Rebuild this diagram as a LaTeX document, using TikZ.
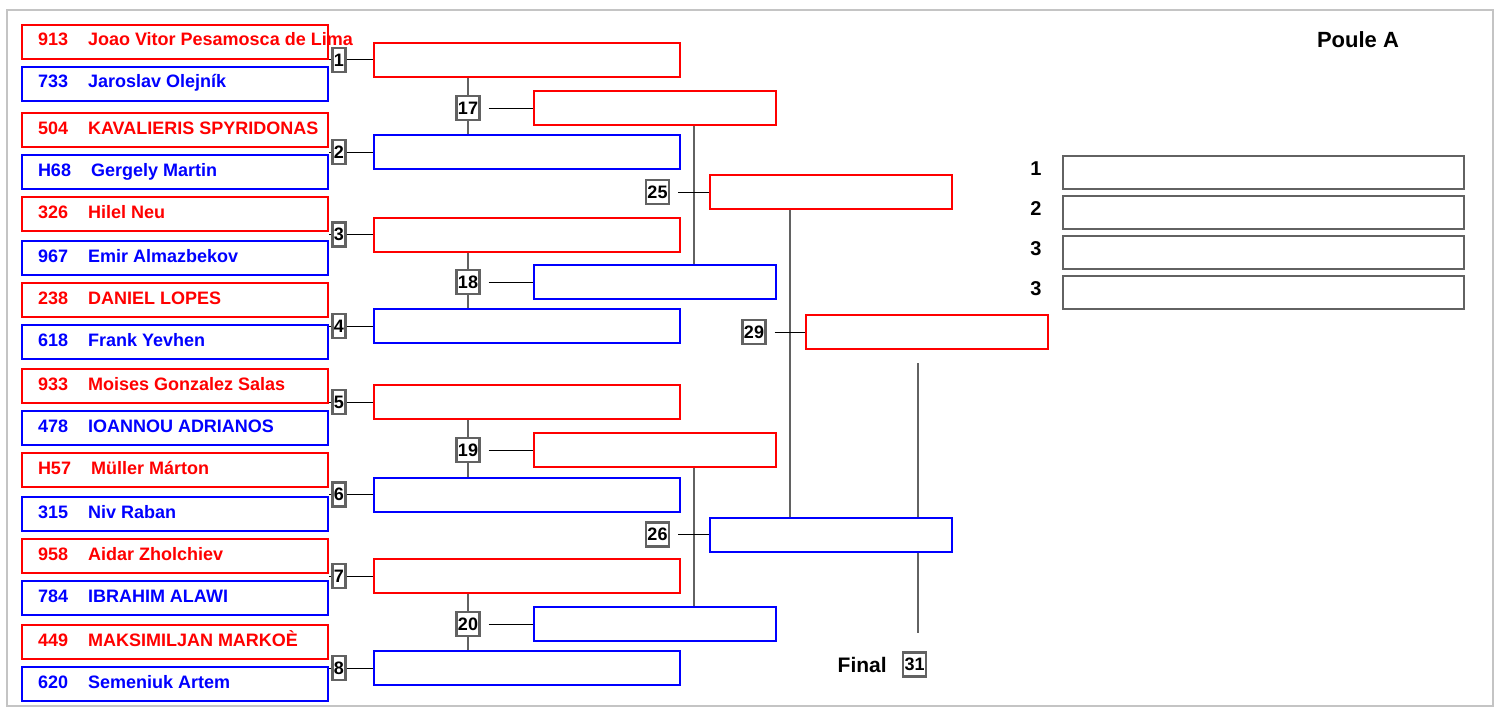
\documentclass[tikz,border=0pt]{standalone}
\usepackage{fontspec}
\setmainfont{Liberation Sans}
\usetikzlibrary{calc,positioning}
\definecolor{EntryRed}{HTML}{FF0000}
\definecolor{EntryBlue}{HTML}{0000FF}
\definecolor{FrameGray}{HTML}{626262}
\definecolor{BorderGray}{HTML}{C4C4C4}

\begin{document}
\begin{tikzpicture}[x=1pt, y=-1pt,
  entry/.style={draw, line width=2pt, minimum width=306pt, minimum height=34pt, inner xsep=16pt, inner ysep=0pt, text height=13pt, text depth=5pt, font=\bfseries\fontsize{18}{20}\selectfont},
  slot/.style={draw, line width=2pt, minimum width=242pt, minimum height=34pt, inner sep=0pt},
  wideslot/.style={slot, minimum width=306pt},
  matchno/.style={draw=FrameGray, line width=2.2pt, fill=white, minimum height=24pt, inner xsep=1.5pt, inner ysep=0pt, font=\bfseries\fontsize{18}{20}\selectfont},
  rankbox/.style={draw=FrameGray, line width=2.5pt, minimum width=401pt, minimum height=33pt},
  link/.style={FrameGray, line width=1.3pt},
  feed/.style={black, line width=1pt}]
  \useasboundingbox (0,0) rectangle (1496,709);
  % Frame
  \draw[BorderGray, line width=2pt] (7,10) rectangle (1493,706);
  \node[font=\bfseries\fontsize{22}{24}\selectfont] (title) at (1358,40) {Poule A};

  % Entries
  \node[entry, EntryRed]  (p1)  at (175,42)  {\makebox[274pt][l]{913\hspace{20pt}Joao Vitor Pesamosca de Lima}};
  \node[entry, EntryBlue] (p2)  at (175,84)  {\makebox[274pt][l]{733\hspace{20pt}Jaroslav Olejník}};
  \node[entry, EntryRed]  (p3)  at (175,130) {\makebox[274pt][l]{504\hspace{20pt}KAVALIERIS SPYRIDONAS}};
  \node[entry, EntryBlue] (p4)  at (175,172) {\makebox[274pt][l]{H68\hspace{20pt}Gergely Martin}};
  \node[entry, EntryRed]  (p5)  at (175,214) {\makebox[274pt][l]{326\hspace{20pt}Hilel Neu}};
  \node[entry, EntryBlue] (p6)  at (175,258) {\makebox[274pt][l]{967\hspace{20pt}Emir Almazbekov}};
  \node[entry, EntryRed]  (p7)  at (175,300) {\makebox[274pt][l]{238\hspace{20pt}DANIEL LOPES}};
  \node[entry, EntryBlue] (p8)  at (175,342) {\makebox[274pt][l]{618\hspace{20pt}Frank Yevhen}};
  \node[entry, EntryRed]  (p9)  at (175,386) {\makebox[274pt][l]{933\hspace{20pt}Moises Gonzalez Salas}};
  \node[entry, EntryBlue] (p10) at (175,428) {\makebox[274pt][l]{478\hspace{20pt}IOANNOU ADRIANOS}};
  \node[entry, EntryRed]  (p11) at (175,470) {\makebox[274pt][l]{H57\hspace{20pt}Müller Márton}};
  \node[entry, EntryBlue] (p12) at (175,514) {\makebox[274pt][l]{315\hspace{20pt}Niv Raban}};
  \node[entry, EntryRed]  (p13) at (175,556) {\makebox[274pt][l]{958\hspace{20pt}Aidar Zholchiev}};
  \node[entry, EntryBlue] (p14) at (175,598) {\makebox[274pt][l]{784\hspace{20pt}IBRAHIM ALAWI}};
  \node[entry, EntryRed]  (p15) at (175,642) {\makebox[274pt][l]{449\hspace{20pt}MAKSIMILJAN MARKOÈ}};
  \node[entry, EntryBlue] (p16) at (175,684) {\makebox[274pt][l]{620\hspace{20pt}Semeniuk Artem}};

  % First round
  \node[wideslot, EntryRed]  (m1) at (527,60)    {};
  \node[wideslot, EntryBlue] (m2) at (527,152)   {};
  \node[wideslot, EntryRed]  (m3) at (527,234.5) {};
  \node[wideslot, EntryBlue] (m4) at (527,326)   {};
  \node[wideslot, EntryRed]  (m5) at (527,402)   {};
  \node[wideslot, EntryBlue] (m6) at (527,494.5) {};
  \node[wideslot, EntryRed]  (m7) at (527,576)   {};
  \node[wideslot, EntryBlue] (m8) at (527,668)   {};
  \node[matchno] (n1) at (339,60)    {1};
  \node[matchno] (n2) at (339,152)   {2};
  \node[matchno] (n3) at (339,234.5) {3};
  \node[matchno] (n4) at (339,326)   {4};
  \node[matchno] (n5) at (339,402)   {5};
  \node[matchno] (n6) at (339,494.5) {6};
  \node[matchno] (n7) at (339,576)   {7};
  \node[matchno] (n8) at (339,668)   {8};
  \draw[feed] (n1.west -| p1.east) -- (n1.west) (n1.east) -- (m1.west);
  \draw[feed] (n2.west -| p3.east) -- (n2.west) (n2.east) -- (m2.west);
  \draw[feed] (n3.west -| p5.east) -- (n3.west) (n3.east) -- (m3.west);
  \draw[feed] (n4.west -| p7.east) -- (n4.west) (n4.east) -- (m4.west);
  \draw[feed] (n5.west -| p9.east) -- (n5.west) (n5.east) -- (m5.west);
  \draw[feed] (n6.west -| p11.east) -- (n6.west) (n6.east) -- (m6.west);
  \draw[feed] (n7.west -| p13.east) -- (n7.west) (n7.east) -- (m7.west);
  \draw[feed] (n8.west -| p15.east) -- (n8.west) (n8.east) -- (m8.west);

  % Second round
  \node[slot, EntryRed]  (m17) at (655,108) {};
  \node[slot, EntryBlue] (m18) at (655,282) {};
  \node[slot, EntryRed]  (m19) at (655,450) {};
  \node[slot, EntryBlue] (m20) at (655,624) {};
  \node[matchno] (n17) at (468,108) {17};
  \node[matchno] (n18) at (468,282) {18};
  \node[matchno] (n19) at (468,450) {19};
  \node[matchno] (n20) at (468,624) {20};
  \draw[link] (m1.south -| n17) -- (n17.north) (n17.south) -- (m2.north -| n17);
  \draw[link] (m3.south -| n18) -- (n18.north) (n18.south) -- (m4.north -| n18);
  \draw[link] (m5.south -| n19) -- (n19.north) (n19.south) -- (m6.north -| n19);
  \draw[link] (m7.south -| n20) -- (n20.north) (n20.south) -- (m8.north -| n20);
  \draw[feed, shorten <=8pt] (n17.east) -- (m17.west);
  \draw[feed, shorten <=8pt] (n18.east) -- (m18.west);
  \draw[feed, shorten <=8pt] (n19.east) -- (m19.west);
  \draw[feed, shorten <=8pt] (n20.east) -- (m20.west);

  % Semi-finals
  \node[slot, EntryRed]  (m25) at (831,192)   {};
  \node[slot, EntryBlue] (m26) at (831,534.5) {};
  \node[matchno] (n25) at (657.5,192)   {25};
  \node[matchno] (n26) at (657.5,534.5) {26};
  \coordinate (j25) at (694,192);
  \coordinate (j26) at (694,534.5);
  \draw[link] (j25 |- m17.south) -- (j25 |- m18.north);
  \draw[link] (j26 |- m19.south) -- (j26 |- m20.north);
  \draw[feed, shorten <=8pt] (n25.east) -- (m25.west);
  \draw[feed, shorten <=8pt] (n26.east) -- (m26.west);

  % Match 29
  \node[slot, EntryRed] (m29) at (927,332) {};
  \node[matchno] (n29) at (754,332) {29};
  \coordinate (j29) at (790,332);
  \draw[link] (j29 |- m25.south) -- (j29 |- m26.north);
  \draw[feed, shorten <=8pt] (n29.east) -- (m29.west);

  % Final
  \node[matchno] (n31) at (914.5,664.5) {31};
  \node[left=15pt of n31, inner sep=0pt, font=\bfseries\fontsize{21}{23}\selectfont] (final) {Final};
  \coordinate (ftop) at (918,363);
  \coordinate (fbot) at (918,633);
  \draw[link] (ftop) -- (ftop |- m26.north);
  \draw[link] (ftop |- m26.south) -- (fbot);

  % Ranking
  \node[rankbox] (r1) at (1263.5,172.5) {};
  \node[rankbox] (r2) at (1263.5,212.5) {};
  \node[rankbox] (r3) at (1263.5,252.5) {};
  \node[rankbox] (r4) at (1263.5,292.5) {};
  \node[font=\bfseries\fontsize{20}{22}\selectfont] (l1) at (1036,169) {1};
  \node[font=\bfseries\fontsize{20}{22}\selectfont] (l2) at (1036,209) {2};
  \node[font=\bfseries\fontsize{20}{22}\selectfont] (l3) at (1036,249) {3};
  \node[font=\bfseries\fontsize{20}{22}\selectfont] (l4) at (1036,289) {3};
\end{tikzpicture}
\end{document}
